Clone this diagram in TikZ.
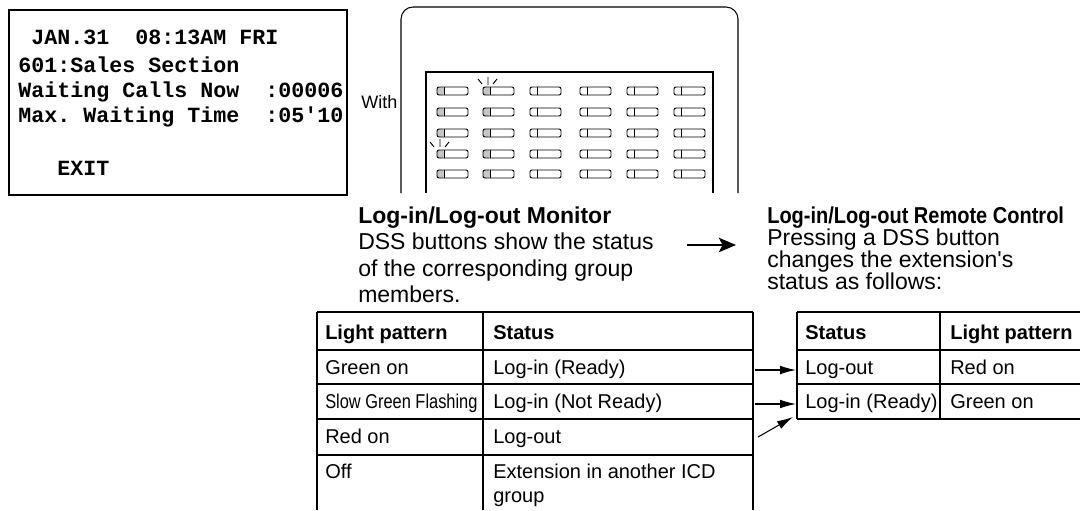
\documentclass[tikz,border=0pt]{standalone}
\usepackage{fontspec}
\setmainfont{Liberation Sans}
\setmonofont{Liberation Mono}
\usepackage{graphicx}
\usepackage{xcolor}
\usetikzlibrary{positioning,arrows.meta,calc}
\definecolor{lampgray}{HTML}{C6C6C6}
\frenchspacing

\begin{document}
\begin{tikzpicture}[x=0.75pt,y=-0.75pt,
    lcd/.style={anchor=base west,inner sep=0pt,font=\fontsize{16.25}{18}\ttfamily\bfseries},
    txt/.style={anchor=base west,inner sep=0pt,font=\fontsize{17.25}{19}\selectfont},
    title/.style={anchor=base west,inner sep=0pt,font=\fontsize{17.25}{19}\selectfont\bfseries},
    cell/.style={anchor=base west,inner sep=0pt,font=\fontsize{15}{17}\selectfont},
    head/.style={anchor=base west,inner sep=0pt,font=\fontsize{15}{17}\selectfont\bfseries},
    frame/.style={line width=0.8pt},
    btn/.style={line width=0.7pt},
    arrow/.style={-{Latex[length=12pt,width=6.5pt]},line width=0.8pt},
    bigarrow/.style={-{Stealth[length=13pt,width=11pt,inset=3pt]},line width=0.8pt},
]
\useasboundingbox (0,0) rectangle (1080,510);

% display
\draw[frame] (9,10) rectangle (347,195);
\node[lcd] (date)  at (18,45)  {~JAN.31~~08:13AM~FRI};
\node[lcd] (grp)   at (18,72)  {601:Sales~Section};
\node[lcd] (calls) at (18,97)  {Waiting~Calls~Now~~:00006};
\node[lcd] (wait)  at (18,122) {Max.~Waiting~Time~~:05\textquotesingle10};
\node[lcd] (exit)  at (18,175) {~~~EXIT};
\node[anchor=base west,inner sep=0pt,font=\fontsize{13.5}{15}\selectfont] (with) at (361,108) {With};

% DSS console
\draw[frame,rounded corners=9pt] (401,193) -- (401,7) -- (738,7) -- (738,193);
\draw[frame] (426,193) -- (426,72) -- (713,72) -- (713,193);
\foreach \bx in {437,483}
  \foreach \by in {91,112,133,154,174}
    \fill[lampgray,rounded corners=1.2pt] (\bx,\by-4) rectangle (\bx+7,\by+4);
\foreach \bx in {437,483,530,580,627,674}
  \foreach \by in {91,112,133,154,174} {
    \draw[btn,rounded corners=1.5pt] (\bx,\by-4) rectangle (\bx+31,\by+4);
    \draw[btn] (\bx+7,\by-4) -- (\bx+7,\by+4);
  }
% flashing lamps
\draw[btn] (488,77) -- (488,85) (478,79) -- (482,84) (497,79) -- (493,84);
\draw[btn] (440,139) -- (440,147) (430,142) -- (434,147) (449,142) -- (445,147);

% captions
\node[title] (mon)  at (358,223) {Log-in/Log-out Monitor};
\node[txt]   (mon1) at (358,249) {DSS buttons show the status};
\node[txt]   (mon2) at (358,276) {of the corresponding group};
\node[txt]   (mon3) at (358,302) {members.};

\node[title] (rc)  at (767,223) {\scalebox{0.87}[1]{Log-in/Log-out Remote Control}};
\node[txt]   (rc1) at (767,245) {Pressing a DSS button};
\node[txt]   (rc2) at (767,267) {changes the extension\textquotesingle s};
\node[txt]   (rc3) at (767,289) {status as follows:};

\coordinate (go1) at (687,245);
\coordinate (go2) at (736,245);
\draw[bigarrow] (go1) -- (go2);

% monitor table
\draw[frame] (317,312) -- (753,312) (317,350) -- (753,350) (317,384) -- (753,384)
  (317,419) -- (753,419) (317,455) -- (753,455);
\draw[frame] (317,312) -- (317,510) (483,312) -- (483,510) (753,312) -- (753,510);
\node[head] (lp)  at (325,339) {Light pattern};
\node[head] (st)  at (493,339) {Status};
\node[cell] (lp1) at (325,374) {Green on};
\node[cell] (st1) at (493,374) {Log-in (Ready)};
\node[cell] (lp2) at (325,408) {\scalebox{0.82}[1]{Slow Green Flashing}};
\node[cell] (st2) at (493,408) {Log-in (Not Ready)};
\node[cell] (lp3) at (325,443) {Red on};
\node[cell] (st3) at (493,443) {Log-out};
\node[cell] (lp4) at (325,478) {Off};
\node[cell] (st4) at (493,478) {Extension in another ICD};
\node[cell] (st5) at (493,502) {group};

% remote control table
\draw[frame] (797,312) -- (1080,312) (797,350) -- (1080,350) (797,384) -- (1080,384)
  (797,419) -- (1080,419);
\draw[frame] (797,312) -- (797,419) (940,312) -- (940,419);
\node[head] (rst)  at (805,339) {Status};
\node[head] (rlp)  at (950,339) {Light pattern};
\node[cell] (rst1) at (805,374) {Log-out};
\node[cell] (rlp1) at (950,374) {Red on};
\node[cell] (rst2) at (805,408) {Log-in (Ready)};
\node[cell] (rlp2) at (950,408) {Green on};

\coordinate (ls1) at (755,370);
\coordinate (rs1) at (796,370);
\coordinate (ls2) at (755,404);
\coordinate (rs2) at (796,404);
\coordinate (ls3) at (758,437);
\coordinate (rs3) at (793,417);
\draw[arrow] (ls1) -- (rs1);
\draw[arrow] (ls2) -- (rs2);
\draw[arrow] (ls3) -- (rs3);
\end{tikzpicture}
\end{document}
